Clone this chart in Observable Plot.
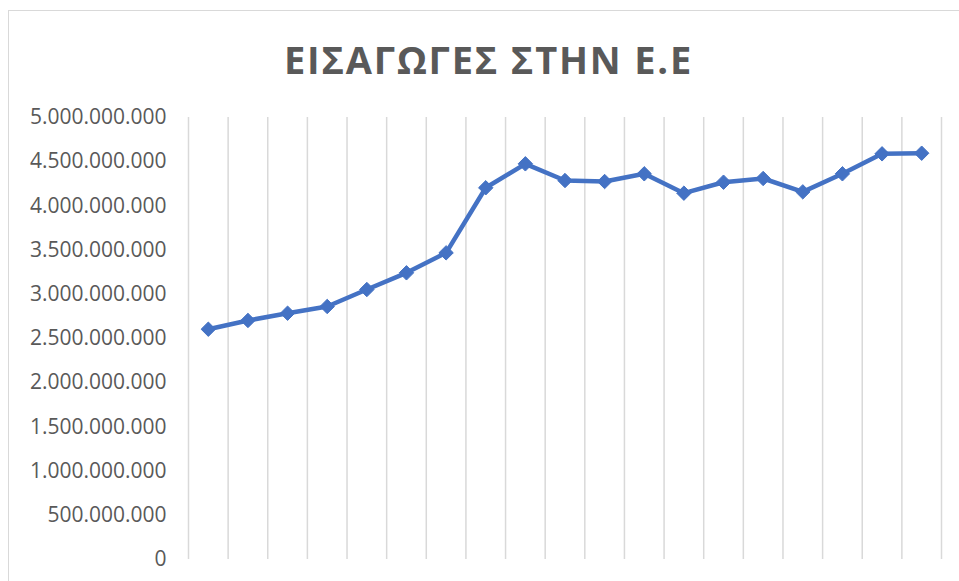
<!DOCTYPE html>
<html>
<head>
<meta charset="utf-8">
<script src="https://cdn.jsdelivr.net/npm/d3@7"></script>
<script src="https://cdn.jsdelivr.net/npm/@observablehq/plot@0.6"></script>
<style>
  html, body { margin: 0; padding: 0; background: #fff; }
  #wrap { position: relative; width: 959px; height: 581px; overflow: hidden; }
  #frame { position: absolute; left: 8px; top: 10px; width: 1000px; height: 600px;
           border-left: 1.5px solid #d9d9d9; border-top: 1.5px solid #d9d9d9; }
  #title { position: absolute; left: 9px; width: 959px; top: 33px; text-align: center;
           font-family: "Open Sans", sans-serif; font-weight: 700; font-size: 38px;
           letter-spacing: 1.8px; color: #595959; }
  #chart { position: absolute; left: 0; top: 0; }
</style>
</head>
<body>
<div id="wrap">
  <div id="frame"></div>
  <div id="title">ΕΙΣΑΓΩΓΕΣ ΣΤΗΝ Ε.Ε</div>
  <div id="chart"></div>
</div>
<script>
const categories = [1,2,3,4,5,6,7,8,9,10,11,12,13,14,15,16,17,18,19];
const values = [
  2605000000, 2704000000, 2786000000, 2862000000, 3054000000, 3243000000, 3469000000,
  4205000000, 4476000000, 4287000000, 4276000000, 4363000000, 4144000000, 4268000000,
  4310000000, 4159000000, 4363000000, 4589000000, 4596000000
];
const yTicks = [0, 500000000, 1000000000, 1500000000, 2000000000, 2500000000,
                3000000000, 3500000000, 4000000000, 4500000000, 5000000000];

const data = categories.map((c, i) => ({c, v: values[i]}));
const boundaries = [categories[0] - 0.5, ...categories.map(c => c + 0.5)];

const locale = d3.formatLocale({decimal: ",", thousands: ".", grouping: [3], currency: ["", "€"]});
const fmt = locale.format(",d");

const chart = Plot.plot({
  width: 959,
  height: 581,
  marginLeft: 188,
  marginRight: 18,
  marginTop: 117,
  marginBottom: 22,
  style: {fontFamily: "'Open Sans', sans-serif", fontSize: "21px", color: "#595959", background: "transparent"},
  x: {domain: [boundaries[0], boundaries[boundaries.length - 1]], axis: null},
  y: {domain: [0, 5000000000], ticks: yTicks, tickFormat: fmt, tickSize: 0, tickPadding: 22, label: null},
  marks: [
    Plot.ruleX(boundaries, {stroke: "#d9d9d9", strokeWidth: 1.5, y1: 0, y2: 5000000000}),
    Plot.line(data, {x: "c", y: "v", stroke: "#4472C4", strokeWidth: 4.5, strokeLinejoin: "round", strokeLinecap: "round"}),
    Plot.dot(data, {x: "c", y: "v", symbol: "diamond2", r: 6.5, fill: "#4472C4", stroke: "#4472C4", strokeWidth: 1})
  ]
});
document.getElementById("chart").appendChild(chart);
</script>
</body>
</html>
